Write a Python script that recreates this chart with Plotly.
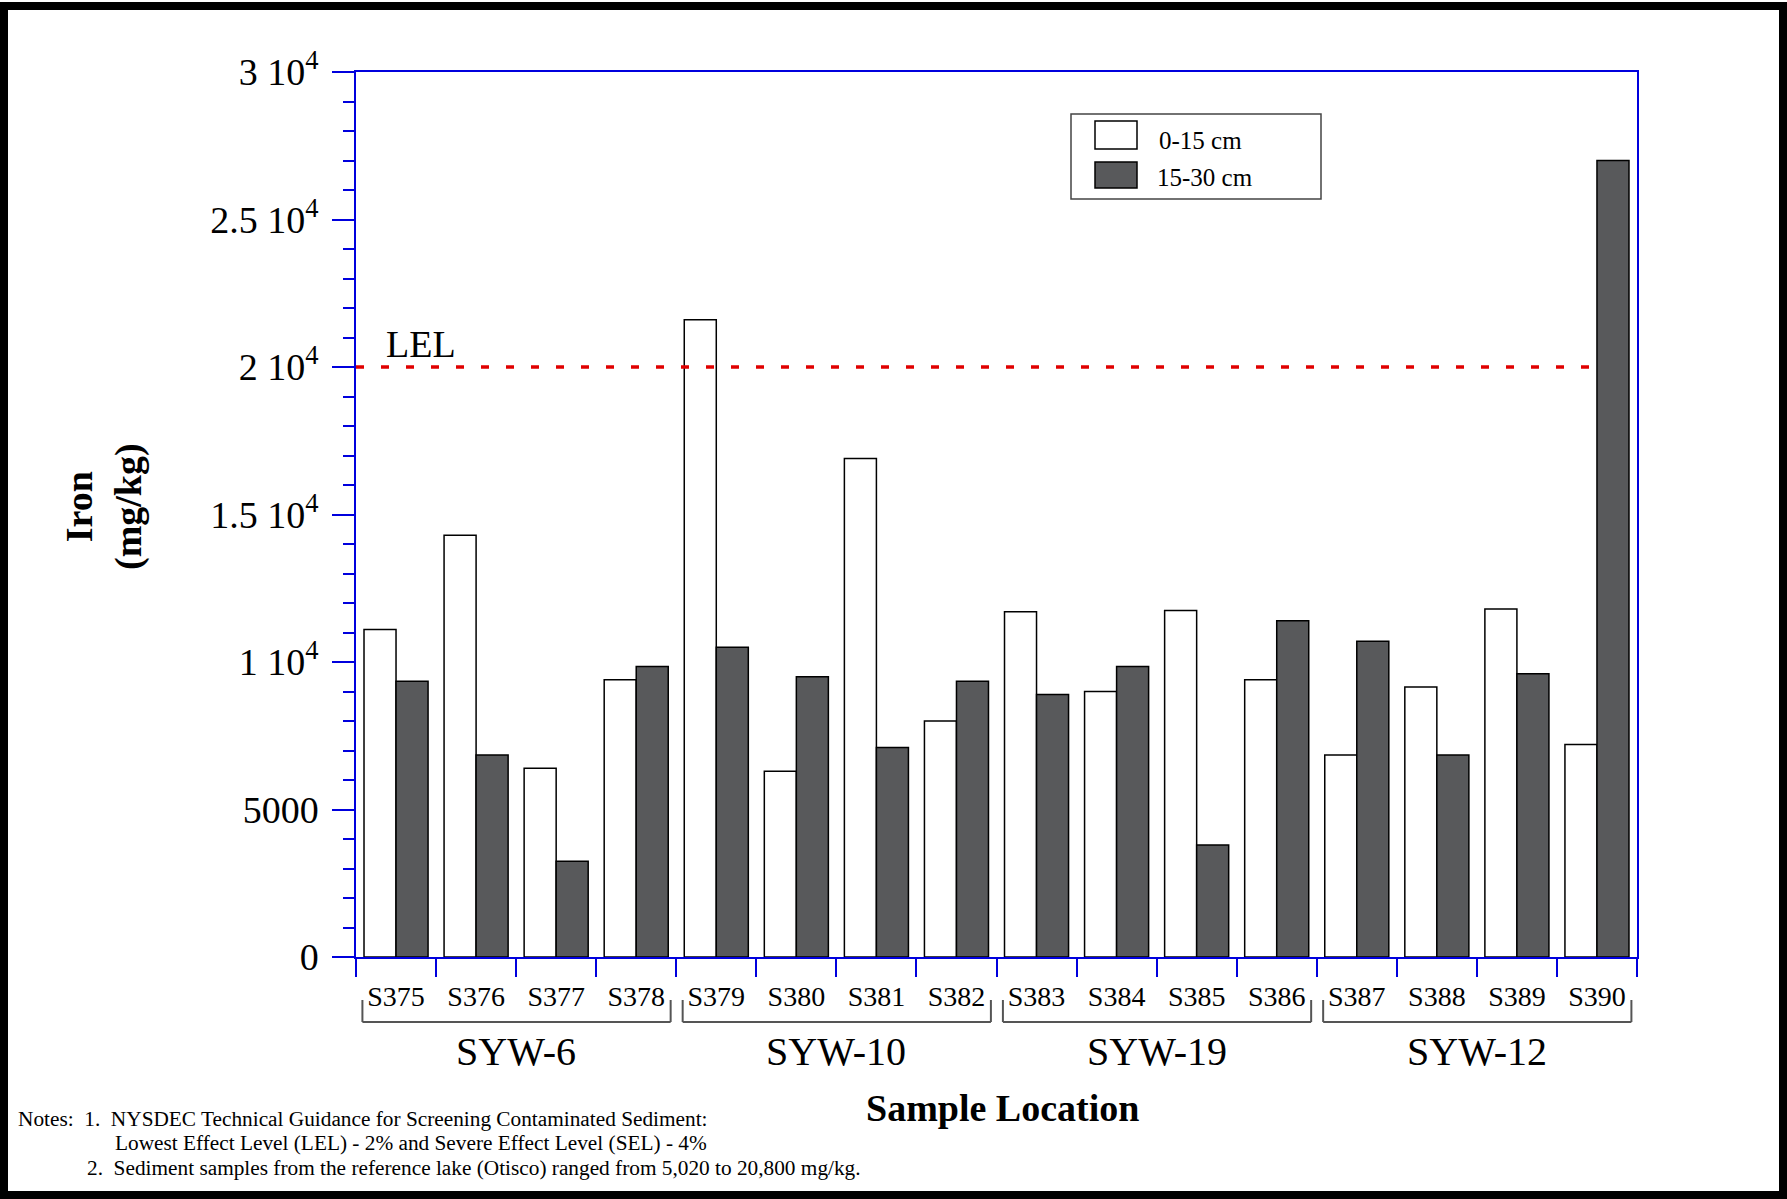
import plotly.graph_objects as go

# ---------------- data ----------------
samples = ["S375", "S376", "S377", "S378", "S379", "S380", "S381", "S382",
           "S383", "S384", "S385", "S386", "S387", "S388", "S389", "S390"]
depth_0_15 = [11100, 14300, 6400, 9400, 21600, 6300, 16900, 8000,
              11700, 9000, 11750, 9400, 6850, 9150, 11800, 7200]
depth_15_30 = [9350, 6850, 3250, 9850, 10500, 9500, 7100, 9350,
               8900, 9850, 3800, 11400, 10700, 6850, 9600, 27000]
groups = ["SYW-6", "SYW-10", "SYW-19", "SYW-12"]
group_size = 4
lel_value = 20000
y_tickvals = [0, 5000, 10000, 15000, 20000, 25000, 30000]
y_ticktext = ["0", "5000", "1 10<sup>4</sup>", "1.5 10<sup>4</sup>", "2 10<sup>4</sup>",
              "2.5 10<sup>4</sup>", "3 10<sup>4</sup>"]
series_names = ["0-15 cm", "15-30 cm"]
notes = ["Notes:  1.  NYSDEC Technical Guidance for Screening Contaminated Sediment:",
         "Lowest Effect Level (LEL) - 2% and Severe Effect Level (SEL) - 4%",
         "2.  Sediment samples from the reference lake (Otisco) ranged from 5,020 to 20,800 mg/kg."]

# ---------------- layout constants ----------------
W, H = 1787, 1199
L, R, T, B = 356, 150, 72, 242
PW, PH = W - L - R, H - T - B
FONT = "Liberation Serif, Times New Roman, serif"
BLUE = "#0000dd"
DARK = "#58595b"


def px(xp):
    return (xp - L) / PW


def py(yp):
    return (H - B - yp) / PH


fig = go.Figure()
fig.add_trace(go.Bar(x=samples, y=depth_0_15, name=series_names[0],
                     marker=dict(color="white", line=dict(color="black", width=1.5)),
                     showlegend=False))
fig.add_trace(go.Bar(x=samples, y=depth_15_30, name=series_names[1],
                     marker=dict(color=DARK, line=dict(color="black", width=1.5)),
                     showlegend=False))

fig.update_layout(
    width=W, height=H,
    margin=dict(l=L, r=R, t=T, b=B, pad=0),
    paper_bgcolor="white", plot_bgcolor="white",
    barmode="group", bargap=0.2, bargroupgap=0,
    font=dict(family=FONT, color="black"),
)

fig.update_xaxes(
    type="category", range=[-0.5, len(samples) - 0.5],
    tickson="boundaries", ticks="outside", ticklen=18, tickwidth=1.5, tickcolor=BLUE,
    showline=True, linecolor=BLUE, linewidth=1.5, mirror=True,
    showgrid=False, zeroline=False,
    tickfont=dict(family=FONT, size=28, color="black"),
    ticklabelstandoff=14,
)
fig.update_yaxes(
    range=[0, 30000], tickmode="array", tickvals=y_tickvals, ticktext=y_ticktext,
    ticks="outside", ticklen=22, tickwidth=1.5, tickcolor=BLUE,
    minor=dict(tickmode="linear", tick0=0, dtick=1000, ticks="outside", ticklen=11,
               tickwidth=1.5, tickcolor=BLUE, showgrid=False),
    showline=True, linecolor=BLUE, linewidth=1.5, mirror=True,
    showgrid=False, zeroline=False,
    tickfont=dict(family=FONT, size=38, color="black"),
    ticklabelstandoff=6,
)

shapes = []
# outer black frame
shapes.append(dict(type="rect", xref="paper", yref="paper",
                   x0=px(4), x1=px(1783), y0=py(1195), y1=py(6),
                   line=dict(color="black", width=8), fillcolor="rgba(0,0,0,0)", layer="above"))
# LEL line
shapes.append(dict(type="line", xref="x", yref="y", x0=-0.5, x1=len(samples) - 1,
                   y0=lel_value, y1=lel_value,
                   line=dict(color="#e00000", width=3.5, dash="8px,17px"), layer="above"))
# group brackets
for g in range(len(groups)):
    x0 = g * group_size - 0.5 + 0.08
    x1 = g * group_size + group_size - 0.5 - 0.07
    ytop, ybot = py(1000), py(1022)
    for (a, b, c, d) in [(x0, ytop, x0, ybot), (x0, ybot, x1, ybot), (x1, ybot, x1, ytop)]:
        shapes.append(dict(type="line", xref="x", yref="paper", x0=a, y0=b, x1=c, y1=d,
                           line=dict(color="#555555", width=2)))
# custom legend
shapes.append(dict(type="rect", xref="paper", yref="paper",
                   x0=px(1071), x1=px(1321), y0=py(199), y1=py(114),
                   line=dict(color="#444444", width=1.5), fillcolor="white", layer="above"))
shapes.append(dict(type="rect", xref="paper", yref="paper",
                   x0=px(1095), x1=px(1137), y0=py(149), y1=py(121),
                   line=dict(color="black", width=1.5), fillcolor="white", layer="above"))
shapes.append(dict(type="rect", xref="paper", yref="paper",
                   x0=px(1095), x1=px(1137), y0=py(188), y1=py(162),
                   line=dict(color="black", width=1.5), fillcolor=DARK, layer="above"))
fig.update_layout(shapes=shapes)

ann = []
ann.append(dict(text=series_names[0], xref="paper", yref="paper", x=px(1157), y=py(140),
                xanchor="left", yanchor="middle", showarrow=False, font=dict(size=25)))
ann.append(dict(text=series_names[1], xref="paper", yref="paper", x=px(1155), y=py(177),
                xanchor="left", yanchor="middle", showarrow=False, font=dict(size=25)))
ann.append(dict(text="LEL", xref="paper", yref="paper", x=px(384), y=py(344),
                xanchor="left", yanchor="middle", showarrow=False, font=dict(size=38)))
for g, name in enumerate(groups):
    ann.append(dict(text=name, xref="x", yref="paper", x=g * group_size + (group_size - 1) / 2,
                    y=py(1051), xanchor="center", yanchor="middle", showarrow=False,
                    font=dict(size=40)))
ann.append(dict(text="<b>Sample Location</b>", xref="paper", yref="paper", x=px(1002), y=py(1108),
                xanchor="center", yanchor="middle", showarrow=False, font=dict(size=38)))
ann.append(dict(text="<b>Iron</b><br><b>(mg/kg)</b>", xref="paper", yref="paper",
                x=px(104), y=py(507), xanchor="center", yanchor="middle", textangle=-90,
                showarrow=False, font=dict(size=38)))
for xpos, ypos, t in [(16, 1119, notes[0]), (113, 1143, notes[1]), (85, 1168, notes[2])]:
    ann.append(dict(text=t, xref="paper", yref="paper", x=px(xpos), y=py(ypos),
                    xanchor="left", yanchor="middle", showarrow=False, font=dict(size=21.3)))
fig.update_layout(annotations=ann)

fig.write_html("out.html", config={"displayModeBar": False},
               post_script="document.body.style.margin='0';")
